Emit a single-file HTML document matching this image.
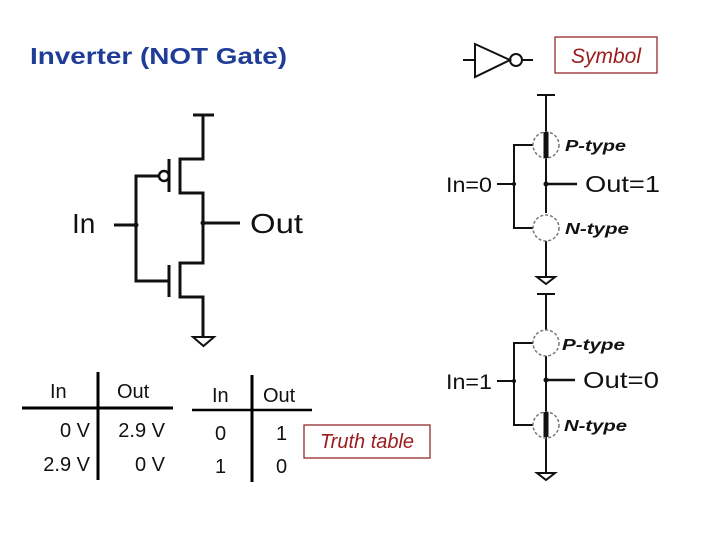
<!DOCTYPE html>
<html><head><meta charset="utf-8"><style>
html,body{margin:0;padding:0;background:#fff;}
svg{display:block;}
text{font-family:"Liberation Sans",sans-serif;}
</style></head><body>
<svg width="720" height="540" viewBox="0 0 720 540" xmlns="http://www.w3.org/2000/svg">
<rect width="720" height="540" fill="#fff"/>
<text x="30" y="64" font-size="23" font-weight="bold" fill="#1f3c96" textLength="257" lengthAdjust="spacingAndGlyphs">Inverter (NOT Gate)</text>

<!-- Left CMOS circuit -->
<g stroke="#111" stroke-width="3" fill="none">
<line x1="193" y1="115" x2="214" y2="115"/>
<polyline points="203,115 203,159 180,159 180,193 203,193 203,263 180,263 180,297 203,297 203,337"/>
<line x1="169" y1="159" x2="169" y2="192"/>
<line x1="169" y1="265" x2="169" y2="297"/>
<polyline points="159,176 136,176 136,281 169,281"/>
<line x1="114" y1="225" x2="136" y2="225"/>
<line x1="203" y1="223" x2="240" y2="223"/>
<circle cx="164" cy="176" r="5" stroke-width="2.5"/>
<polygon points="193,337 214,337 203.5,346" stroke-width="2"/>
</g>
<circle cx="136" cy="225" r="2.5" fill="#111"/>
<circle cx="203" cy="223" r="2.5" fill="#111"/>
<text x="72" y="233" font-size="28" fill="#111">In</text>
<text x="250" y="233" font-size="28" fill="#111" textLength="53" lengthAdjust="spacingAndGlyphs">Out</text>

<!-- Symbol -->
<g stroke="#111" stroke-width="2" fill="none">
<line x1="463" y1="60" x2="475" y2="60"/>
<polygon points="475,44 475,77 510,60"/>
<circle cx="516" cy="60" r="6"/>
<line x1="522" y1="60" x2="533" y2="60"/>
</g>
<rect x="555" y="37" width="102" height="36" fill="#fff" stroke="#8b1a1a" stroke-width="1.2"/>
<text x="606" y="63" font-size="21" font-style="italic" fill="#9b1c1c" text-anchor="middle">Symbol</text>

<!-- Top right: In=0 -->
<g stroke="#111" stroke-width="2" fill="none">
<line x1="537" y1="95" x2="555" y2="95"/>
<line x1="546" y1="95" x2="546" y2="213"/>
<line x1="546" y1="241" x2="546" y2="277"/>
<polygon points="537,277 555,277 546,284"/>
<polyline points="533,145 514,145 514,228 533,228"/>
<line x1="497" y1="184" x2="514" y2="184"/>
<line x1="546" y1="184" x2="577" y2="184" stroke-width="2.5"/>
<circle cx="546" cy="145" r="13" stroke="#777" stroke-width="1.5" stroke-dasharray="3,2"/>
<circle cx="546" cy="228" r="13" stroke="#777" stroke-width="1.5" stroke-dasharray="3,2"/>
<line x1="546" y1="132" x2="546" y2="158" stroke-width="5"/>
</g>
<circle cx="514" cy="184" r="2" fill="#111"/>
<circle cx="546" cy="184" r="2.5" fill="#111"/>
<text x="446" y="192" font-size="21" fill="#111" textLength="46" lengthAdjust="spacingAndGlyphs">In=0</text>
<text x="585" y="192" font-size="23" fill="#111" textLength="75" lengthAdjust="spacingAndGlyphs">Out=1</text>
<text x="565" y="151" font-size="16" font-weight="bold" font-style="italic" fill="#111" textLength="61" lengthAdjust="spacingAndGlyphs">P-type</text>
<text x="565" y="234" font-size="16" font-weight="bold" font-style="italic" fill="#111" textLength="64" lengthAdjust="spacingAndGlyphs">N-type</text>

<!-- Bottom right: In=1 -->
<g stroke="#111" stroke-width="2" fill="none">
<line x1="537" y1="294" x2="555" y2="294"/>
<line x1="546" y1="294" x2="546" y2="330"/>
<line x1="546" y1="356" x2="546" y2="473"/>
<polygon points="537,473 555,473 546,480"/>
<polyline points="533,343 514,343 514,425 533,425"/>
<line x1="497" y1="381" x2="514" y2="381"/>
<line x1="546" y1="380" x2="575" y2="380" stroke-width="2.5"/>
<circle cx="546" cy="343" r="13" stroke="#777" stroke-width="1.5" stroke-dasharray="3,2"/>
<circle cx="546" cy="425" r="13" stroke="#777" stroke-width="1.5" stroke-dasharray="3,2"/>
<line x1="546" y1="412" x2="546" y2="437" stroke-width="5"/>
</g>
<circle cx="514" cy="381" r="2" fill="#111"/>
<circle cx="546" cy="380" r="2.5" fill="#111"/>
<text x="446" y="389" font-size="21" fill="#111" textLength="46" lengthAdjust="spacingAndGlyphs">In=1</text>
<text x="583" y="388" font-size="23" fill="#111" textLength="76" lengthAdjust="spacingAndGlyphs">Out=0</text>
<text x="562" y="350" font-size="16" font-weight="bold" font-style="italic" fill="#111" textLength="63" lengthAdjust="spacingAndGlyphs">P-type</text>
<text x="564" y="431" font-size="16" font-weight="bold" font-style="italic" fill="#111" textLength="63" lengthAdjust="spacingAndGlyphs">N-type</text>

<!-- Truth tables -->
<g stroke="#000" stroke-width="3">
<line x1="22" y1="408" x2="173" y2="408"/>
<line x1="98" y1="372" x2="98" y2="480"/>
<line x1="192" y1="410" x2="312" y2="410" stroke-width="2.5"/>
<line x1="252" y1="375" x2="252" y2="482"/>
</g>
<g font-size="20" fill="#111">
<text x="50" y="398">In</text>
<text x="117" y="398">Out</text>
<text x="90" y="437" text-anchor="end">0 V</text>
<text x="90" y="471" text-anchor="end">2.9 V</text>
<text x="165" y="437" text-anchor="end">2.9 V</text>
<text x="165" y="471" text-anchor="end">0 V</text>
<text x="212" y="402">In</text>
<text x="263" y="402">Out</text>
<text x="215" y="440">0</text>
<text x="215" y="473">1</text>
<text x="276" y="440">1</text>
<text x="276" y="473">0</text>
</g>
<rect x="304" y="425" width="126" height="33" fill="#fff" stroke="#8b1a1a" stroke-width="1.2"/>
<text x="367" y="448" font-size="20" font-style="italic" fill="#9b1c1c" text-anchor="middle">Truth table</text>
</svg>
</body></html>
